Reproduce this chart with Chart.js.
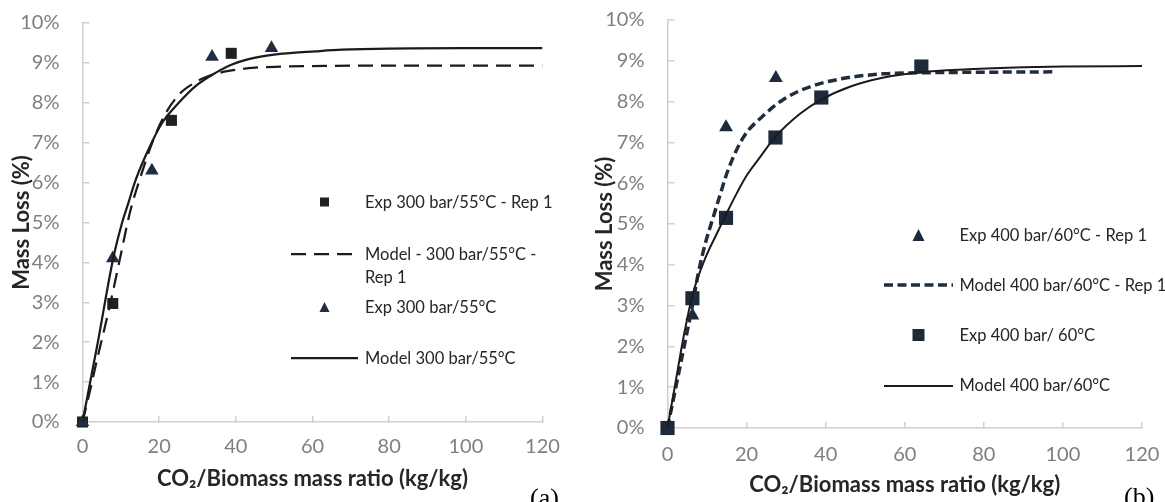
<!DOCTYPE html>
<html>
<head>
<meta charset="utf-8">
<title>Mass loss vs CO2/Biomass mass ratio</title>
<script src="https://cdn.jsdelivr.net/npm/chart.js@4.4.1/dist/chart.umd.min.js"></script>
<style>
    body { margin: 0; background: #fff; font-family: Lato, sans-serif; }
    #wrap { position: relative; width: 1165px; height: 502px; overflow: hidden; }
    .panel { position: absolute; top: 0; }
    .legend-text { position: absolute; white-space: nowrap; font-size: 16.5px; line-height: 23px; color: #262626; }
    .legend-symbol { position: absolute; }
    .tag { position: absolute; font-family: "Liberation Serif", serif; font-size: 26px; line-height: 30px; color: #000; }
</style>
</head>
<body>
<div id="wrap">
    <canvas id="chartA" class="panel" width="583" height="502" style="left:0"></canvas>
    <canvas id="chartB" class="panel" width="582" height="502" style="left:583px"></canvas>
    <div id="legendA"></div>
    <div id="legendB"></div>
    <div class="tag" style="left:530px; top:483px">(a)</div>
    <div class="tag" style="left:1124px; top:482px">(b)</div>
</div>
<script>
// Axis ticks / titles
const xTicks = [0, 20, 40, 60, 80, 100, 120];
const yTicks = [0, 1, 2, 3, 4, 5, 6, 7, 8, 9, 10];
const xTitle = 'CO₂/Biomass mass ratio (kg/kg)';
const yTitle = 'Mass Loss (%)';

// Panel (a) - 300 bar / 55°C
const labelsA = ['Exp 300 bar/55°C - Rep 1', 'Model - 300 bar/55°C -\nRep 1', 'Exp 300 bar/55°C', 'Model 300 bar/55°C'];
const expRepAX = [0, 7.9, 23.2, 38.8];
const expRepAY = [0, 2.97, 7.56, 9.24];
const modelRepAX = [0, 2, 4, 6, 7.9, 10, 12.5, 15, 18, 21.2, 25.1, 29, 32.9, 38.1, 45.1, 52.1, 60, 70, 90, 120];
const modelRepAY = [0, 0.8, 1.65, 2.45, 3.25, 4.2, 5.3, 6.1, 6.95, 7.65, 8.2, 8.49, 8.67, 8.8, 8.88, 8.91, 8.92, 8.93, 8.93, 8.93];
const expAX = [0, 7.9, 18.1, 33.8, 49.3];
const expAY = [0, 4.1, 6.3, 9.15, 9.37];
const modelAX = [0, 4, 7.9, 10.2, 12, 13.8, 17.3, 20.8, 25.1, 29.5, 34.7, 39, 45.1, 52.1, 60.8, 67.7, 80, 100, 120];
const modelAY = [0, 2.0, 4.05, 4.95, 5.5, 6.05, 6.85, 7.5, 8.0, 8.42, 8.75, 8.96, 9.13, 9.23, 9.29, 9.33, 9.36, 9.37, 9.37];

// Panel (b) - 400 bar / 60°C
const labelsB = ['Exp 400 bar/60°C - Rep 1', 'Model 400 bar/60°C - Rep 1', 'Exp 400 bar/ 60°C', 'Model 400 bar/60°C'];
const expRepBX = [0, 6.3, 14.8, 27.4];
const expRepBY = [0, 2.76, 7.37, 8.58];
const modelRepBX = [0, 2, 4, 6.3, 7.8, 9.5, 11.6, 12.9, 15.5, 19.3, 24.4, 29.4, 36.2, 44.6, 54.7, 67.4, 80, 98];
const modelRepBY = [0, 0.95, 1.9, 3.0, 3.8, 4.5, 5.18, 5.59, 6.37, 7.14, 7.67, 8.06, 8.37, 8.57, 8.68, 8.71, 8.72, 8.73];
const expBX = [0, 6.3, 14.8, 27.3, 38.9, 64.2];
const expBY = [0, 3.18, 5.15, 7.12, 8.10, 8.86];
const modelBX = [0, 2, 4, 6.3, 9.5, 12.4, 14.9, 17.5, 20.1, 23.5, 27.3, 33.6, 38.9, 46.3, 54.7, 64, 76, 90, 100, 120];
const modelBY = [0, 1.1, 2.2, 3.25, 4.15, 4.75, 5.25, 5.75, 6.2, 6.65, 7.14, 7.71, 8.05, 8.37, 8.59, 8.72, 8.79, 8.84, 8.86, 8.87];

function toPoints(xs, ys) {
    return xs.map((x, i) => ({ x: x, y: ys[i] }));
}

// Shared axis setup, only the box sizes differ between the two panels
function buildScales(yWidth, xHeight, xLabelPad, xTitlePad) {
    const tickFont = { family: 'Lato', size: 20 };
    const titleFont = { family: 'Lato', size: 22, weight: 'bold' };
    const axisColor = '#d0d0d0';
    return {
        x: {
            type: 'linear',
            min: 0,
            max: 120,
            afterBuildTicks: (scale) => { scale.ticks = xTicks.map(v => ({ value: v })); },
            // fixed box size, and no extra room for the end labels (layout padding handles that)
            afterFit: (scale) => {
                scale.height = xHeight;
                scale.paddingLeft = 0;
                scale.paddingRight = 0;
            },
            ticks: { color: '#7f7f7f', font: tickFont, padding: xLabelPad, maxRotation: 0, autoSkip: false },
            grid: { drawOnChartArea: false, drawTicks: true, tickLength: -6, color: axisColor, lineWidth: 1.5 },
            border: { color: axisColor, width: 1.5 },
            title: { display: true, text: xTitle, color: '#262626', font: titleFont, padding: { top: 0, bottom: xTitlePad } }
        },
        y: {
            type: 'linear',
            min: 0,
            max: 10,
            afterBuildTicks: (scale) => { scale.ticks = yTicks.map(v => ({ value: v })); },
            afterFit: (scale) => {
                scale.width = yWidth;
                scale.paddingTop = 0;
                scale.paddingBottom = 0;
            },
            ticks: { color: '#7f7f7f', font: tickFont, padding: 30, callback: (v) => v + '%' },
            grid: { drawOnChartArea: false, drawTicks: true, tickLength: -7, color: axisColor, lineWidth: 1.5 },
            border: { color: axisColor, width: 1.5 },
            title: { display: true, text: yTitle, color: '#262626', font: titleFont, padding: { top: 9, bottom: 0 } }
        }
    };
}

function markerSet(label, xs, ys, style, radius, color, order) {
    return {
        label: label,
        data: toPoints(xs, ys),
        showLine: false,
        pointStyle: style,
        pointRadius: radius,
        pointHoverRadius: radius,
        pointBackgroundColor: color,
        pointBorderColor: color,
        pointBorderWidth: 0,
        clip: false,
        order: order
    };
}

function lineSet(label, xs, ys, color, width, dash, order) {
    return {
        label: label,
        data: toPoints(xs, ys),
        showLine: true,
        borderColor: color,
        borderWidth: width,
        borderDash: dash,
        pointRadius: 0,
        cubicInterpolationMode: 'monotone',
        fill: false,
        order: order
    };
}

const colA = { square: '#211f24', triangle: '#1f2d42', dash: '#1b1b1b', solid: '#1b1b1b' };
const colB = { square: '#1d2a3b', triangle: '#1d2a3b', dash: '#1f2d3d', solid: '#1e1a1b' };

const chartA = new Chart(document.getElementById('chartA'), {
    type: 'scatter',
    data: {
        datasets: [
            markerSet(labelsA[0], expRepAX, expRepAY, 'rect', 7.8, colA.square, 4),
            lineSet(labelsA[1], modelRepAX, modelRepAY, colA.dash, 2.25, [15, 8], 3),
            markerSet(labelsA[2], expAX, expAY, 'triangle', 7.8, colA.triangle, 2),
            lineSet(labelsA[3], modelAX, modelAY, colA.solid, 2.25, [], 1)
        ]
    },
    options: {
        responsive: false,
        animation: false,
        layout: { padding: { top: 23, right: 40.5, bottom: 0, left: 0 } },
        scales: buildScales(82.5, 80, 19, 10.3),
        plugins: { legend: { display: false }, tooltip: { enabled: false } }
    }
});

const chartB = new Chart(document.getElementById('chartB'), {
    type: 'scatter',
    data: {
        datasets: [
            markerSet(labelsB[0], expRepBX, expRepBY, 'triangle', 8, colB.triangle, 4),
            lineSet(labelsB[1], modelRepBX, modelRepBY, colB.dash, 3.5, [9, 4.5], 3),
            markerSet(labelsB[2], expBX, expBY, 'rect', 10, colB.square, 2),
            lineSet(labelsB[3], modelBX, modelBY, colB.solid, 2, [], 1)
        ]
    },
    options: {
        responsive: false,
        animation: false,
        layout: { padding: { top: 20, right: 23, bottom: 0, left: 0 } },
        scales: buildScales(84.5, 74, 21, 4.3),
        plugins: { legend: { display: false }, tooltip: { enabled: false } }
    }
});

// HTML legend placed inside the plot area, like the original figure
function symbolSvg(ds, w) {
    const h = 16;
    let inner = '';
    if (ds.showLine) {
        const dash = ds.borderDash && ds.borderDash.length ? ` stroke-dasharray="${ds.borderDash.join(' ')}"` : '';
        inner = `<line x1="0" y1="${h / 2}" x2="${w}" y2="${h / 2}" stroke="${ds.borderColor}" stroke-width="${ds.borderWidth}"${dash}/>`;
    } else if (ds.pointStyle === 'rect') {
        const s = ds.legendSize;
        inner = `<rect x="${w / 2 - s / 2}" y="${h / 2 - s / 2}" width="${s}" height="${s}" fill="${ds.pointBackgroundColor}"/>`;
    } else {
        const s = ds.legendSize;
        const cx = w / 2, cy = h / 2;
        inner = `<polygon points="${cx},${cy - s / 2} ${cx + s / 2},${cy + s / 2} ${cx - s / 2},${cy + s / 2}" fill="${ds.pointBackgroundColor}"/>`;
    }
    return `<svg width="${w}" height="${h}">${inner}</svg>`;
}

function buildLegend(containerId, chart, symbolLeft, symbolWidth, textLeft, rowsY, markerSizes) {
    const box = document.getElementById(containerId);
    box.innerHTML = chart.data.datasets.map((ds, i) => {
        ds.legendSize = markerSizes[i];
        return `
            <div class="legend-symbol" style="left:${symbolLeft}px; top:${rowsY[i] - 8}px">${symbolSvg(ds, symbolWidth)}</div>
            <div class="legend-text" style="left:${textLeft}px; top:${rowsY[i] - 11.5}px">${ds.label.replace('\n', '<br>')}</div>
        `;
    }).join('');
}

buildLegend('legendA', chartA, 291, 67, 365, [202, 254, 307, 358], [9, 0, 10, 0]);
buildLegend('legendB', chartB, 884, 69, 959.5, [235, 285, 335, 385.5], [12, 0, 12, 0]);
</script>
</body>
</html>
